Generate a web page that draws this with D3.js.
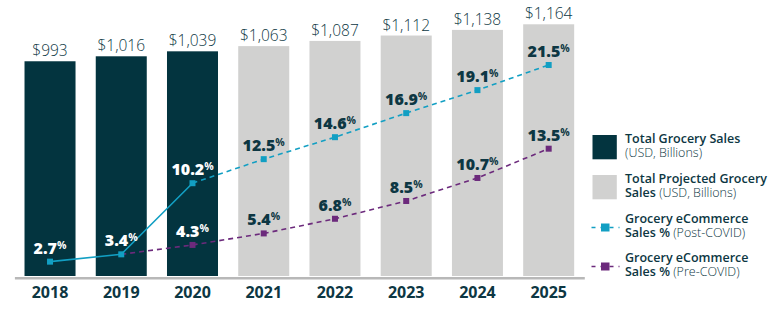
<!DOCTYPE html>
<html>
<head>
<meta charset="utf-8">
<script src="https://cdn.jsdelivr.net/npm/d3@7"></script>
<style>
  html, body { margin: 0; padding: 0; background: #ffffff; }
  svg { display: block; font-family: "Open Sans", "Noto Sans", sans-serif; }
</style>
</head>
<body>
<svg id="chart" width="774" height="322"></svg>
<script>
// ---- data ----
const years = ["2018", "2019", "2020", "2021", "2022", "2023", "2024", "2025"];
const salesValues = [993, 1016, 1039, 1063, 1087, 1112, 1138, 1164];
const projected = [false, false, false, true, true, true, true, true];
const postCovidYears = ["2018", "2019", "2020", "2021", "2022", "2023", "2024", "2025"];
const postCovidPct = [2.7, 3.4, 10.2, 12.5, 14.6, 16.9, 19.1, 21.5];
const preCovidYears = ["2019", "2020", "2021", "2022", "2023", "2024", "2025"];
const preCovidPct = [3.4, 4.3, 5.4, 6.8, 8.5, 10.7, 13.5];
const legendItems = [
  { line1: "Total Grocery Sales", line2bold: "", line2light: "(USD, Billions)", type: "actual" },
  { line1: "Total Projected Grocery", line2bold: "Sales", line2light: " (USD, Billions)", type: "projected" },
  { line1: "Grocery eCommerce", line2bold: "Sales %", line2light: " (Post-COVID)", type: "post" },
  { line1: "Grocery eCommerce", line2bold: "Sales %", line2light: " (Pre-COVID)", type: "pre" }
];

// ---- styles ----
const C = {
  dark: "#03343f",
  gray: "#d1d1d0",
  blue: "#129fc3",
  purple: "#6c2a7c",
  text: "#0d3743",
  axis: "#b8b8b8"
};

const svg = d3.select("#chart");

const x = d3.scaleBand().domain(years).range([14.4, 584.3]).paddingInner(0.284).paddingOuter(0.142);
const y = d3.scaleLinear().domain([0, 1200]).range([276, 16.5]);
const yp = d3.scaleLinear().domain([0, 25]).range([289.9, 28.4]);
const cx = d => x(d) + x.bandwidth() / 2;

// bars
const sales = years.map((yr, i) => ({ year: yr, value: salesValues[i], projected: projected[i] }));
svg.append("g").selectAll("rect").data(sales).join("rect")
  .attr("x", d => x(d.year))
  .attr("y", d => y(d.value))
  .attr("width", x.bandwidth())
  .attr("height", d => y(0) - y(d.value))
  .attr("fill", d => d.projected ? C.gray : C.dark);

// value labels
svg.append("g").selectAll("text").data(sales).join("text")
  .attr("x", d => cx(d.year))
  .attr("y", d => y(d.value) - 5)
  .attr("text-anchor", "middle")
  .attr("font-size", 15.5)
  .attr("font-weight", 300)
  .attr("fill", C.text)
  .text(d => "$" + d3.format(",")(d.value));

// axis
const axis = svg.append("g").attr("transform", "translate(0,277.8)")
  .call(d3.axisBottom(x).tickSize(0).tickPadding(9));
axis.select(".domain").attr("stroke", C.axis).attr("stroke-width", 2.5);
axis.selectAll("text")
  .attr("font-family", "'Open Sans', sans-serif")
  .attr("font-size", 16)
  .attr("font-weight", 700)
  .attr("fill", C.text);

// lines
const post = postCovidYears.map((yr, i) => ({ year: yr, v: postCovidPct[i] }));
const pre = preCovidYears.map((yr, i) => ({ year: yr, v: preCovidPct[i] }));
const line = d3.line().x(d => cx(d.year)).y(d => yp(d.v));

svg.append("path").datum(post.slice(0, 3)).attr("d", line)
  .attr("fill", "none").attr("stroke", C.blue).attr("stroke-width", 1.6);
svg.append("path").datum(post.slice(2)).attr("d", line)
  .attr("fill", "none").attr("stroke", C.blue).attr("stroke-width", 1.6).attr("stroke-dasharray", "5,4");
svg.append("path").datum(pre).attr("d", line)
  .attr("fill", "none").attr("stroke", C.purple).attr("stroke-width", 1.6).attr("stroke-dasharray", "5,4");

const ms = 6;
svg.append("g").selectAll("rect").data(pre.slice(1)).join("rect")
  .attr("x", d => cx(d.year) - ms / 2).attr("y", d => yp(d.v) - ms / 2)
  .attr("width", ms).attr("height", ms).attr("fill", C.purple);
svg.append("g").selectAll("rect").data(post).join("rect")
  .attr("x", d => cx(d.year) - ms / 2).attr("y", d => yp(d.v) - ms / 2)
  .attr("width", ms).attr("height", ms).attr("fill", C.blue);

// pct labels
function pctLabels(data) {
  const t = svg.append("g").selectAll("text").data(data).join("text")
    .attr("x", d => cx(d.year))
    .attr("y", d => yp(d.v) - 8)
    .attr("text-anchor", "middle")
    .attr("font-size", 16)
    .attr("font-weight", 800)
    .attr("fill", d => projected[years.indexOf(d.year)] ? C.text : "#ffffff");
  t.append("tspan").text(d => d.v.toFixed(1));
  t.append("tspan").attr("font-size", 10.5).attr("dy", -5).attr("font-weight", 700).text("%");
}
pctLabels(post);
pctLabels(pre.slice(1));

// legend
const lg = svg.append("g");
const legendTop = [143.3, 183.3, 222.7, 261.7];
legendItems.forEach((it, i) => {
  const by = legendTop[i];
  const g = lg.append("g");
  if (it.type === "actual" || it.type === "projected") {
    g.append("rect").attr("x", 592.5).attr("y", by - 8.3).attr("width", 24.3).attr("height", 24.3)
      .attr("fill", it.type === "actual" ? C.dark : C.gray);
  } else {
    const col = it.type === "post" ? C.blue : C.purple;
    const ly = by + 4.8;
    g.append("line").attr("x1", 591.5).attr("x2", 619.5).attr("y1", ly).attr("y2", ly)
      .attr("stroke", col).attr("stroke-width", 1.6).attr("stroke-dasharray", "4,5");
    g.append("rect").attr("x", 601).attr("y", ly - 4).attr("width", 8.5).attr("height", 8).attr("fill", col);
  }
  const t = g.append("text").attr("x", 625).attr("y", by).attr("font-size", 12.5).attr("fill", C.text);
  t.append("tspan").attr("font-weight", 600).text(it.line1);
  if (it.line2bold) {
    t.append("tspan").attr("x", 625).attr("dy", 14).attr("font-weight", 600).text(it.line2bold);
    t.append("tspan").attr("font-weight", 300).text(it.line2light);
  } else {
    t.append("tspan").attr("x", 625).attr("dy", 14).attr("font-weight", 300).text(it.line2light);
  }
});
</script>
</body>
</html>
